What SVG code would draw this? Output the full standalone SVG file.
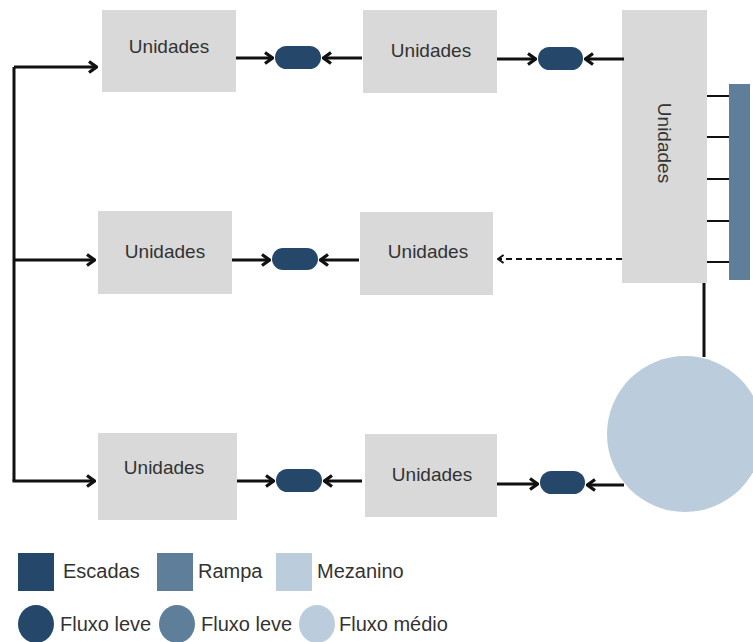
<svg xmlns="http://www.w3.org/2000/svg" width="753" height="642" viewBox="0 0 753 642">
  <style>
    .box { fill: #d9d9d9; }
    .lbl { font-family: "Liberation Sans", Arial, sans-serif; font-size: 19px; fill: #333333; }
    .leg { font-size: 20px; }
    .mid { text-anchor: middle; }
    .stair { fill: #24476a; }
    .ramp { fill: #5f7e9a; }
    .mez { fill: #bbccdc; }
    .ln { fill: none; stroke: #111111; stroke-width: 3; }
    .arr { marker-end: url(#ah); }
    .dash { stroke-width: 2; stroke-dasharray: 6 4; }
    .tick { fill: none; stroke: #111111; stroke-width: 2; }
  </style>
  <defs>
    <marker id="ah" viewBox="0 0 11 14" refX="10" refY="7" markerWidth="11" markerHeight="14" markerUnits="userSpaceOnUse" orient="auto">
      <path d="M2,1.5 L9.5,7 L2,12.5" fill="none" stroke="#111111" stroke-width="3.2"/>
    </marker>
    <marker id="ahs" viewBox="0 0 10 12" refX="9" refY="6" markerWidth="8" markerHeight="10" markerUnits="userSpaceOnUse" orient="auto">
      <path d="M2,1 L9,6 L2,11" fill="none" stroke="#111111" stroke-width="2.5"/>
    </marker>
  </defs>

  <!-- unit blocks -->
  <g id="unit-top-left"><rect class="box" x="102" y="10" width="134" height="82"/><text class="lbl mid" x="169" y="53">Unidades</text></g>
  <g id="unit-top-mid"><rect class="box" x="363" y="10" width="134" height="83"/><text class="lbl mid" x="431" y="57">Unidades</text></g>
  <g id="unit-tall"><rect class="box" x="622" y="10" width="85" height="273"/><text class="lbl mid" transform="translate(658,143) rotate(90)">Unidades</text></g>
  <g id="unit-mid-left"><rect class="box" x="98" y="211" width="134" height="83"/><text class="lbl mid" x="165" y="258">Unidades</text></g>
  <g id="unit-mid-right"><rect class="box" x="360" y="212" width="133" height="83"/><text class="lbl mid" x="428" y="258">Unidades</text></g>
  <g id="unit-bot-left"><rect class="box" x="98" y="433" width="139" height="87"/><text class="lbl mid" x="164" y="474">Unidades</text></g>
  <g id="unit-bot-mid"><rect class="box" x="365" y="434" width="132" height="83"/><text class="lbl mid" x="432" y="481">Unidades</text></g>

  <!-- ramp and mezzanine -->
  <g id="ramp"><rect class="ramp" x="729" y="84" width="21" height="196"/></g>
  <g id="mezzanine"><circle class="mez" cx="685" cy="434" r="78"/></g>

  <!-- stair nodes -->
  <g id="stair-1"><rect class="stair" x="275" y="46" width="46" height="23" rx="11.5"/></g>
  <g id="stair-2"><rect class="stair" x="538" y="47" width="45" height="23" rx="11.5"/></g>
  <g id="stair-3"><rect class="stair" x="272" y="248" width="46" height="22" rx="11"/></g>
  <g id="stair-4"><rect class="stair" x="276" y="469" width="46" height="23" rx="11.5"/></g>
  <g id="stair-5"><rect class="stair" x="540" y="471" width="45" height="23" rx="11.5"/></g>

  <!-- connectors -->
  <g id="connectors">
    <polyline class="ln" points="14,481 14,67"/>
    <line class="ln arr" x1="14" y1="67" x2="97" y2="67"/>
    <line class="ln arr" x1="14" y1="260" x2="95" y2="260"/>
    <line class="ln arr" x1="12.5" y1="481" x2="95" y2="481"/>

    <line class="ln arr" x1="236" y1="58" x2="273" y2="58"/>
    <line class="ln arr" x1="362" y1="58" x2="323" y2="58"/>
    <line class="ln arr" x1="497" y1="59" x2="536" y2="59"/>
    <line class="ln arr" x1="624" y1="59" x2="585" y2="59"/>

    <line class="ln arr" x1="232" y1="260" x2="270" y2="260"/>
    <line class="ln arr" x1="359" y1="260" x2="320" y2="260"/>
    <line class="ln dash" x1="622" y1="259" x2="498" y2="259" marker-end="url(#ahs)"/>

    <line class="ln arr" x1="237" y1="481" x2="274" y2="481"/>
    <line class="ln arr" x1="362" y1="481" x2="324" y2="481"/>
    <line class="ln arr" x1="497" y1="484" x2="538" y2="484"/>
    <line class="ln arr" x1="624" y1="485" x2="587" y2="485"/>

    <line class="tick" x1="707" y1="96" x2="729" y2="96"/>
    <line class="tick" x1="707" y1="137" x2="729" y2="137"/>
    <line class="tick" x1="707" y1="179" x2="729" y2="179"/>
    <line class="tick" x1="707" y1="221" x2="729" y2="221"/>
    <line class="tick" x1="707" y1="262" x2="729" y2="262"/>
    <line class="ln" x1="704" y1="283" x2="704" y2="357"/>
  </g>

  <!-- legend -->
  <g id="legend">
    <rect class="stair" x="18" y="553" width="36" height="38"/>
    <text class="lbl leg" x="63" y="578">Escadas</text>
    <rect class="ramp" x="157" y="553" width="36" height="38"/>
    <text class="lbl leg" x="198" y="578">Rampa</text>
    <rect class="mez" x="276" y="553" width="36" height="38"/>
    <text class="lbl leg" x="317" y="578">Mezanino</text>

    <ellipse class="stair" cx="36" cy="624" rx="18" ry="19"/>
    <text class="lbl leg" x="60" y="631">Fluxo leve</text>
    <ellipse class="ramp" cx="177" cy="624" rx="18" ry="19"/>
    <text class="lbl leg" x="201" y="631">Fluxo leve</text>
    <ellipse class="mez" cx="317" cy="624" rx="18" ry="19"/>
    <text class="lbl leg" x="339" y="631">Fluxo médio</text>
  </g>
</svg>
